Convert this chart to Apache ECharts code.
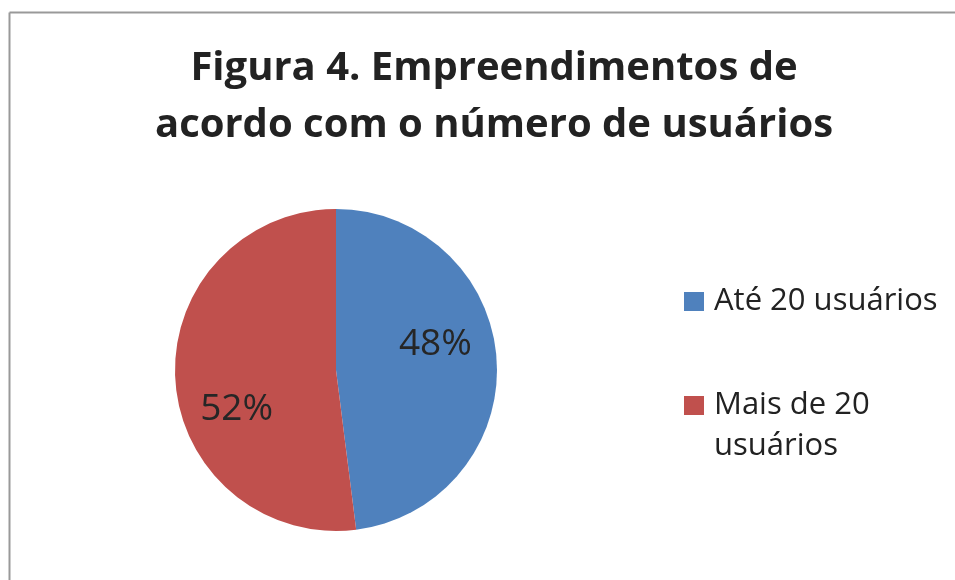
<!DOCTYPE html>
<html><head><meta charset="utf-8">
<script src="https://cdn.jsdelivr.net/npm/echarts@6/dist/echarts.min.js"></script>
<style>html,body{margin:0;padding:0;background:#fff}#c{width:955px;height:580px}</style>
</head><body><div id="c"></div>
<script>
const titleText = 'Figura 4. Empreendimentos de\nacordo com o número de usuários';
const categories = ['Até 20 usuários', 'Mais de 20 usuários'];
const legendLabels = ['Até 20 usuários', '\nMais de 20\nusuários'];
const values = [48, 52];
const colors = ['#4F81BD', '#C0504D'];
const labelOffsets = [[16, -20], [-16, 34]];

const chart = echarts.init(document.getElementById('c'));
chart.setOption({
  animation: false,
  backgroundColor: '#fff',
  title: {
    text: titleText, left: 489, top: 35, textAlign: 'center',
    textStyle: { fontFamily: 'Open Sans', fontWeight: 'bold', fontSize: 40, lineHeight: 57, color: '#222' }
  },
  graphic: [
    { type: 'line', shape: { x1: 9.5, y1: 12.5, x2: 955, y2: 12.5 }, style: { stroke: '#999', lineWidth: 2 } },
    { type: 'line', shape: { x1: 9.5, y1: 12.5, x2: 9.5, y2: 580 }, style: { stroke: '#999', lineWidth: 2 } }
  ],
  legend: {
    orient: 'vertical', left: 679, top: 276, itemWidth: 20, itemHeight: 19, itemGap: 22,
    icon: 'rect',
    formatter: function (n) { return legendLabels[categories.indexOf(n)]; },
    textStyle: { fontFamily: 'Open Sans', fontSize: 31, color: '#222', lineHeight: 41, padding: [0, 0, 0, 5] }
  },
  series: [{
    type: 'pie', center: [336, 370], radius: 161, startAngle: 90, clockwise: true,
    color: colors,
    label: { position: 'inside', formatter: '{c}%', fontFamily: 'Open Sans', fontSize: 37, color: '#262626' },
    labelLayout: function (p) { const o = labelOffsets[p.dataIndex]; return { dx: o[0], dy: o[1] }; },
    labelLine: { show: false },
    itemStyle: { borderWidth: 0 },
    emphasis: { disabled: true },
    data: categories.map((n, i) => ({ name: n, value: values[i] }))
  }]
});
</script></body></html>
